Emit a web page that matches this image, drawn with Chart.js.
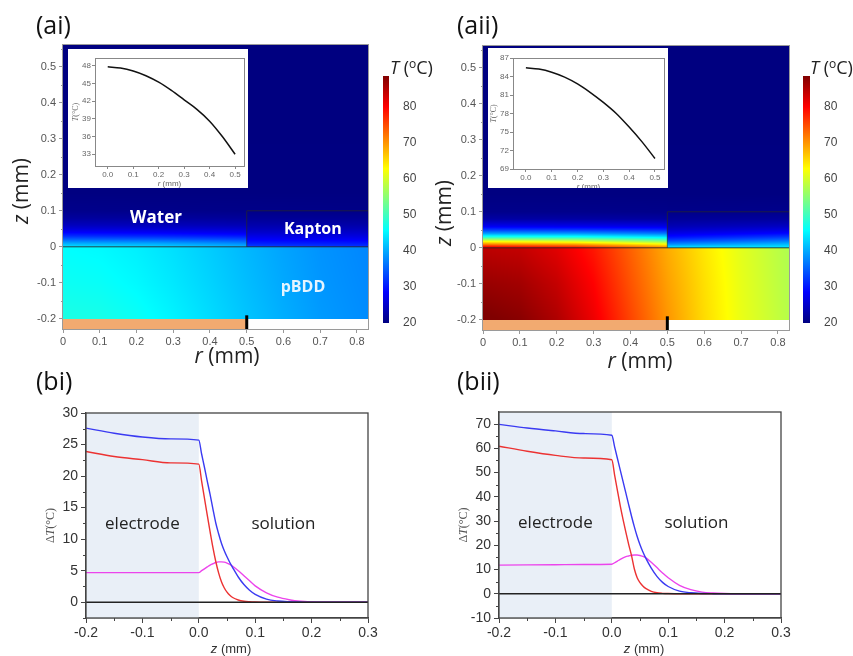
<!DOCTYPE html>
<html>
<head>
<meta charset="utf-8">
<script src="https://cdn.jsdelivr.net/npm/chart.js@4"></script>
<style>
body { margin: 0; background: #fff; }
#wrap { position: relative; width: 853px; height: 656px; overflow: hidden; }
canvas { position: absolute; }
.lab { position: absolute; font-family: "Open Sans"; font-size: 25px; line-height: 1; color: #111; }
</style>
</head>
<body>
<div id="wrap">
  <canvas id="heatA" width="375" height="375" style="left:0;top:0"></canvas>
  <canvas id="heatB" width="373" height="375" style="left:430px;top:0"></canvas>
  <canvas id="cbA" width="60" height="290" style="left:375px;top:55px"></canvas>
  <canvas id="cbB" width="58" height="290" style="left:795px;top:55px"></canvas>
  <canvas id="insA" width="180" height="139" style="left:68px;top:49px"></canvas>
  <canvas id="insB" width="180" height="140" style="left:488px;top:48px"></canvas>
  <canvas id="profA" width="430" height="261" style="left:0;top:395px"></canvas>
  <canvas id="profB" width="423" height="261" style="left:430px;top:395px"></canvas>
  <div class="lab" style="left:36px;top:12px">(ai)</div>
  <div class="lab" style="left:457px;top:12px">(aii)</div>
  <div class="lab" style="left:36px;top:368px">(bi)</div>
  <div class="lab" style="left:457px;top:368px">(bii)</div>
</div>
<script>
// colour scale
const cbMin = 20, cbMax = 88.6;
const cbTicks = [20, 30, 40, 50, 60, 70, 80];

// heat map axes
const rTicks = [0, 0.1, 0.2, 0.3, 0.4, 0.5, 0.6, 0.7, 0.8];
const zTicks = [-0.2, -0.1, 0, 0.1, 0.2, 0.3, 0.4, 0.5];
const zMinor = [-0.15, -0.05, 0.05, 0.15, 0.25, 0.35, 0.45, 0.55];

// electrode (pBDD) temperatures, rows = elecZ, columns = elecR
const elecR = [0, 0.1, 0.2, 0.3, 0.4, 0.5, 0.6, 0.7, 0.83];
const elecZ = [-0.2, -0.1, 0];
const aiElec = [
  [47.6, 47.3, 46.4, 45.0, 43.4, 41.8, 40.3, 39.0, 38.0],
  [46.5, 46.2, 45.4, 44.2, 42.8, 41.3, 39.9, 38.7, 37.8],
  [45.7, 45.4, 44.7, 43.6, 42.3, 40.9, 39.6, 38.5, 37.6]
];
const aiiElec = [
  [89.0, 88.0, 85.5, 81.2, 75.5, 70.0, 65.3, 61.5, 58.0],
  [87.0, 86.3, 84.0, 80.0, 74.5, 69.3, 65.0, 61.3, 57.7],
  [84.5, 84.0, 82.0, 78.5, 73.5, 68.5, 64.5, 61.0, 57.5]
];

// water / Kapton temperatures, rows = fluidZ, columns = fluidR
const fluidR = [0, 0.25, 0.499, 0.501, 0.83];
const fluidZ = [0, 0.01, 0.02, 0.03, 0.04, 0.05, 0.06, 0.08, 0.1, 0.15, 0.56];
const aiFluid = [
  [44, 43, 41, 33, 32],
  [40, 39.5, 37.5, 30.5, 30],
  [35.5, 35, 33.5, 28.5, 28],
  [31.5, 31, 30, 26.8, 26.3],
  [28.5, 28, 27.3, 25.2, 25],
  [26, 25.7, 25.2, 24, 23.8],
  [24.2, 24, 23.6, 23, 22.8],
  [22, 21.9, 21.7, 21.5, 21.4],
  [20.8, 20.7, 20.6, 20.6, 20.5],
  [20.1, 20.1, 20.1, 20.1, 20.1],
  [20, 20, 20, 20, 20]
];
const aiiFluid = [
  [83, 80, 72, 45, 45],
  [71, 69, 63, 38, 41],
  [60, 58, 53, 33, 36.5],
  [48, 47, 44, 29.5, 32.5],
  [39, 38.5, 36.5, 27, 29],
  [32.5, 32, 31, 25, 26.5],
  [27.5, 27.2, 26.8, 23.5, 24.5],
  [22.5, 22.4, 22.2, 21.6, 22],
  [20.8, 20.8, 20.7, 20.6, 20.8],
  [20.1, 20.1, 20.1, 20.1, 20.1],
  [20, 20, 20, 20, 20]
];

// insets: surface temperature vs r
const insetR = [0, 0.05, 0.1, 0.15, 0.2, 0.25, 0.3, 0.35, 0.4, 0.45, 0.5];
const aiInsetT = [47.8, 47.6, 47.1, 46.3, 45.2, 43.8, 42.2, 40.6, 38.6, 36.0, 33.0];
const aiiInsetT = [85.4, 85.2, 84.7, 83.9, 82.8, 81.4, 79.8, 78.0, 75.8, 73.4, 70.7];
const insetRTicks = [0, 0.1, 0.2, 0.3, 0.4, 0.5];
const aiInsetTicks = [33, 36, 39, 42, 45, 48];
const aiiInsetTicks = [69, 72, 75, 78, 81, 84, 87];

// profiles: delta T vs z
const zProfile = [-0.2, -0.15, -0.1, -0.05, 0, 0.005, 0.01, 0.015, 0.02, 0.025, 0.03, 0.035, 0.04, 0.045,
  0.05, 0.055, 0.06, 0.07, 0.08, 0.09, 0.1, 0.12, 0.14, 0.16, 0.18, 0.2, 0.22, 0.25, 0.3];
const biBlue = [27.6, 26.8, 26.2, 25.9, 25.7, 23.5, 21.4, 19.2, 17.1, 14.8, 12.6, 10.9, 9.4, 8.2,
  7.2, 6.3, 5.5, 4.0, 2.8, 1.9, 1.25, 0.5, 0.2, 0.08, 0.03, 0, 0, 0, 0];
const biRed = [23.9, 23.1, 22.6, 22.1, 21.9, 19.2, 16.5, 13.8, 11.2, 8.7, 6.5, 4.7, 3.3, 2.3,
  1.6, 1.1, 0.75, 0.35, 0.15, 0.07, 0.03, 0, 0, 0, 0, 0, 0, 0, 0];
const biMagenta = [4.7, 4.7, 4.7, 4.7, 4.7, 5.0, 5.3, 5.6, 5.9, 6.1, 6.3, 6.4, 6.4, 6.35,
  6.2, 6.0, 5.7, 5.0, 4.2, 3.4, 2.6, 1.5, 0.8, 0.4, 0.15, 0.05, 0.01, 0, 0];
const biiBlue = [69.9, 68.4, 67.2, 66.1, 65.4, 60.6, 55.8, 51.0, 46.3, 41.5, 36.7, 32.0, 27.6, 23.6,
  20.2, 17.3, 14.8, 10.6, 7.2, 4.7, 3.0, 1.1, 0.4, 0.12, 0.03, 0, 0, 0, 0];
const biiRed = [60.9, 58.8, 57.1, 56.0, 55.3, 49.0, 42.6, 36.3, 30.6, 25.3, 20.3, 15.7, 10.2, 6.6,
  4.6, 3.2, 2.2, 1.0, 0.4, 0.18, 0.08, 0, 0, 0, 0, 0, 0, 0, 0];
const biiMagenta = [11.8, 11.9, 12.0, 12.1, 12.2, 12.8, 13.5, 14.2, 14.8, 15.3, 15.6, 15.9, 16.0, 16.0,
  15.8, 15.4, 14.9, 13.0, 10.8, 8.6, 6.6, 3.5, 1.7, 0.7, 0.3, 0.1, 0, 0, 0];
const zeroLineZ = [-0.2, 0.3];
const profXTicks = [-0.2, -0.1, 0, 0.1, 0.2, 0.3];
const profXMinor = [-0.15, -0.05, 0.05, 0.15, 0.25];
const biYTicks = [0, 5, 10, 15, 20, 25, 30];
const biYMinor = [-2.5, 2.5, 7.5, 12.5, 17.5, 22.5, 27.5];
const biiYTicks = [-10, 0, 10, 20, 30, 40, 50, 60, 70];
const biiYMinor = [-5, 5, 15, 25, 35, 45, 55, 65];

Chart.defaults.animation = false;
Chart.defaults.responsive = false;
Chart.defaults.devicePixelRatio = 1;
Chart.defaults.plugins.legend.display = false;
Chart.defaults.plugins.tooltip.enabled = false;

function jet(v) {
  const t = Math.max(0, Math.min(1, (v - cbMin) / (cbMax - cbMin)));
  const f = c => Math.round(255 * Math.max(0, Math.min(1, 1.5 - Math.abs(4 * t - c))));
  return [f(3), f(2), f(1)];
}

function seg(arr, v) {
  if (v <= arr[0]) return [0, 0];
  for (let i = 0; i < arr.length - 1; i++) {
    if (v <= arr[i + 1]) return [i, (v - arr[i]) / (arr[i + 1] - arr[i])];
  }
  return [arr.length - 2, 1];
}

function sample(rs, zs, grid, r, z) {
  const [i, fi] = seg(rs, r);
  const [j, fj] = seg(zs, z);
  const lo = grid[j][i] * (1 - fi) + grid[j][i + 1] * fi;
  const hi = grid[j + 1][i] * (1 - fi) + grid[j + 1][i + 1] * fi;
  return lo * (1 - fj) + hi * fj;
}

function mixedText(ctx, parts, cx, cy, angle, align) {
  ctx.save();
  ctx.translate(cx, cy);
  ctx.rotate(angle || 0);
  let w = 0;
  parts.forEach(p => { ctx.font = p[1]; w += ctx.measureText(p[0]).width; });
  let xx = align === 'left' ? 0 : -w / 2;
  ctx.textBaseline = 'middle';
  ctx.textAlign = 'left';
  parts.forEach(p => {
    ctx.font = p[1];
    ctx.fillText(p[0], xx, p[2] || 0);
    xx += ctx.measureText(p[0]).width;
  });
  ctx.restore();
}

const fixTicks = list => scale => { scale.ticks = list.map(v => ({ value: v })); };
const fmt1 = v => (Math.round(v * 10) / 10).toString();

const minorTicks = {
  id: 'minor',
  afterDraw(chart, args, o) {
    if (!o.x && !o.y) return;
    const { ctx, chartArea: ca, scales } = chart;
    ctx.save();
    ctx.strokeStyle = o.color || '#444';
    ctx.lineWidth = 1;
    ctx.beginPath();
    (o.x || []).forEach(v => {
      const p = Math.round(scales.x.getPixelForValue(v)) + 0.5;
      ctx.moveTo(p, ca.bottom); ctx.lineTo(p, ca.bottom + o.len);
    });
    (o.y || []).forEach(v => {
      const p = Math.round(scales.y.getPixelForValue(v)) + 0.5;
      ctx.moveTo(ca.left, p); ctx.lineTo(ca.left - o.len, p);
    });
    ctx.stroke();
    ctx.restore();
  }
};

const heat = {
  id: 'heat',
  beforeDatasetsDraw(chart, args, o) {
    const { ctx, chartArea: ca, scales: { x, y } } = chart;
    const x0 = Math.round(ca.left), x1 = Math.round(ca.right);
    const y0 = Math.round(ca.top), y1 = Math.round(y.getPixelForValue(-0.2));
    const img = ctx.createImageData(x1 - x0, y1 - y0);
    let k = 0;
    for (let py = y0; py < y1; py++) {
      const z = y.getValueForPixel(py + 0.5);
      for (let px = x0; px < x1; px++) {
        const r = x.getValueForPixel(px + 0.5);
        const v = z < 0 ? sample(elecR, elecZ, o.elec, r, z) : sample(fluidR, fluidZ, o.fluid, r, z);
        const c = jet(v);
        img.data[k++] = c[0]; img.data[k++] = c[1]; img.data[k++] = c[2]; img.data[k++] = 255;
      }
    }
    ctx.putImageData(img, x0, y0);
    // substrate strip below the electrode
    const sl = x.getPixelForValue(0), sr = x.getPixelForValue(0.5);
    ctx.fillStyle = '#f2aa70';
    ctx.fillRect(sl, y1, sr - sl, ca.bottom - y1);
  },
  afterDraw(chart, args, o) {
    const { ctx, chartArea: ca, scales: { x, y } } = chart;
    ctx.save();
    ctx.strokeStyle = '#9a9a9a';
    ctx.lineWidth = 1;
    ctx.strokeRect(Math.round(ca.left) - 0.5, Math.round(ca.top) - 0.5, Math.round(ca.width) + 1, Math.round(ca.height) + 1);
    (o.labels || []).forEach(l => {
      ctx.fillStyle = l.color;
      ctx.font = 'bold ' + l.size + 'px "Open Sans"';
      ctx.textAlign = 'center';
      ctx.textBaseline = 'middle';
      ctx.fillText(l.t, x.getPixelForValue(l.r), y.getPixelForValue(l.z));
    });
    ctx.fillStyle = '#222';
    const f = '21px "Open Sans"', fi = 'italic 21px "Open Sans"';
    mixedText(ctx, [['z', fi], [' (mm)', f]], o.zTitle[0], o.zTitle[1], -Math.PI / 2);
    mixedText(ctx, [['r', fi], [' (mm)', f]], o.rTitle[0], o.rTitle[1], 0);
    ctx.restore();
  }
};

function heatChart(id, elec, fluid, pad, xH, labels, zTitle, rTitle) {
  const line = (xs, ys, w, col) => ({
    data: xs.map((v, i) => ({ x: v, y: ys[i] })),
    borderColor: col, borderWidth: w, pointRadius: 0, tension: 0
  });
  new Chart(document.getElementById(id), {
    type: 'line',
    data: {
      datasets: [
        line([0, 0.83], [0, 0], 1, 'rgba(40,40,40,0.85)'),
        line([0.5, 0.5, 0.83], [0, 0.1, 0.1], 1, 'rgba(40,40,40,0.7)'),
        line([0.5, 0.5], [-0.228, -0.19], 3, '#000')
      ]
    },
    options: {
      layout: { padding: pad },
      scales: {
        x: {
          type: 'linear', min: 0, max: 0.83,
          afterBuildTicks: fixTicks(rTicks),
          afterFit: s => { s.height = xH; },
          ticks: { callback: fmt1, color: '#555', font: { family: 'Liberation Sans', size: 11 }, padding: 2, maxRotation: 0 },
          grid: { drawOnChartArea: false, tickLength: 4, color: '#999' },
          border: { color: '#999' }
        },
        y: {
          type: 'linear', min: -0.228, max: 0.56,
          afterBuildTicks: fixTicks(zTicks),
          afterFit: s => { s.width = 33; },
          ticks: { callback: fmt1, color: '#555', font: { family: 'Liberation Sans', size: 11 }, padding: 3 },
          grid: { drawOnChartArea: false, tickLength: 4, color: '#999' },
          border: { color: '#999' }
        }
      },
      plugins: {
        heat: { elec: elec, fluid: fluid, labels: labels, zTitle: zTitle, rTitle: rTitle },
        minor: { y: zMinor, len: 2, color: '#999' }
      }
    },
    plugins: [heat, minorTicks]
  });
}

const colorBar = {
  id: 'colorBar',
  beforeDatasetsDraw(chart) {
    const { ctx, chartArea: ca, scales: { y } } = chart;
    const yb = y.getPixelForValue(cbMin), yt = y.getPixelForValue(cbMax);
    const g = ctx.createLinearGradient(0, yb, 0, yt);
    for (let k = 0; k <= 32; k++) {
      const c = jet(cbMin + (cbMax - cbMin) * k / 32);
      g.addColorStop(k / 32, 'rgb(' + c.join(',') + ')');
    }
    ctx.fillStyle = g;
    ctx.fillRect(ca.left, yt, ca.width, yb - yt);
    ctx.fillStyle = '#222';
    const f = '18px "Open Sans"';
    mixedText(ctx, [['T', 'italic ' + f], [' (', f], ['o', '12px "Open Sans"', -4], ['C)', f]], ca.left + 7, 14, 0, 'left');
  }
};

function colorBarChart(id, axisW) {
  new Chart(document.getElementById(id), {
    type: 'line',
    data: { datasets: [] },
    options: {
      layout: { padding: { left: 8, right: 0, top: 21, bottom: 22 } },
      scales: {
        x: { type: 'linear', display: false, min: 0, max: 1 },
        y: {
          type: 'linear', position: 'right', min: cbMin, max: cbMax,
          afterBuildTicks: fixTicks(cbTicks),
          afterFit: s => { s.width = axisW; },
          ticks: { color: '#444', font: { family: 'Liberation Sans', size: 12 }, padding: 6 },
          grid: { display: false },
          border: { display: false }
        }
      }
    },
    plugins: [colorBar]
  });
}

const insetDeco = {
  id: 'insetDeco',
  beforeDraw(chart) {
    const { ctx, width, height } = chart;
    ctx.save();
    ctx.fillStyle = '#fff';
    ctx.fillRect(0, 0, width, height);
    ctx.restore();
  },
  afterDraw(chart) {
    const { ctx, chartArea: ca } = chart;
    ctx.save();
    ctx.strokeStyle = '#888';
    ctx.lineWidth = 1;
    ctx.strokeRect(Math.round(ca.left) + 0.5, Math.round(ca.top) + 0.5, Math.round(ca.width), Math.round(ca.height));
    ctx.fillStyle = '#666';
    mixedText(ctx, [['T', 'italic 8px "Liberation Serif"'], ['(°C)', '8px "Liberation Serif"']], ca.left - 19, (ca.top + ca.bottom) / 2, -Math.PI / 2);
    mixedText(ctx, [['r', 'italic 8px "Liberation Sans"'], [' (mm)', '8px "Liberation Sans"']], (ca.left + ca.right) / 2, ca.bottom + 18, 0);
    ctx.restore();
  }
};

function insetChart(id, temps, yMin, yMax, yTicks, yW, pad, xH) {
  new Chart(document.getElementById(id), {
    type: 'line',
    data: {
      datasets: [{
        data: insetR.map((r, i) => ({ x: r, y: temps[i] })),
        borderColor: '#111', borderWidth: 1.5, pointRadius: 0, cubicInterpolationMode: 'monotone'
      }]
    },
    options: {
      layout: { padding: pad },
      scales: {
        x: {
          type: 'linear', min: -0.05, max: 0.535,
          afterBuildTicks: fixTicks(insetRTicks),
          afterFit: s => { s.height = xH; },
          ticks: { callback: v => v.toFixed(1), color: '#666', font: { family: 'Liberation Sans', size: 8 }, padding: 1, maxRotation: 0 },
          grid: { drawOnChartArea: false, tickLength: 3, color: '#888' },
          border: { color: '#888' }
        },
        y: {
          type: 'linear', min: yMin, max: yMax,
          afterBuildTicks: fixTicks(yTicks),
          afterFit: s => { s.width = yW; },
          ticks: { color: '#666', font: { family: 'Liberation Sans', size: 8 }, padding: 1 },
          grid: { drawOnChartArea: false, tickLength: 3, color: '#888' },
          border: { color: '#888' }
        }
      }
    },
    plugins: [insetDeco]
  });
}

const profDeco = {
  id: 'profDeco',
  beforeDatasetsDraw(chart) {
    const { ctx, chartArea: ca, scales: { x } } = chart;
    const a = x.getPixelForValue(-0.2), b = x.getPixelForValue(0);
    ctx.save();
    ctx.fillStyle = '#e9eff7';
    ctx.fillRect(a, ca.top, b - a, ca.height);
    ctx.restore();
  },
  afterDraw(chart, args, o) {
    const { ctx, chartArea: ca, scales: { x, y } } = chart;
    ctx.save();
    ctx.strokeStyle = '#444';
    ctx.lineWidth = 1.3;
    ctx.strokeRect(ca.left, ca.top, ca.width, ca.height);
    ctx.fillStyle = '#222';
    ctx.font = '17px "Open Sans"';
    ctx.textAlign = 'center';
    ctx.textBaseline = 'middle';
    ctx.fillText('electrode', x.getPixelForValue(-0.1), y.getPixelForValue(o.textY));
    ctx.fillText('solution', x.getPixelForValue(0.15), y.getPixelForValue(o.textY));
    ctx.fillStyle = '#555';
    mixedText(ctx, [['Δ', '12px "Liberation Serif"'], ['T', 'italic 12px "Liberation Serif"'], ['(°C)', '12px "Liberation Serif"']],
      ca.left - 35, (ca.top + ca.bottom) / 2 + 10, -Math.PI / 2);
    ctx.fillStyle = '#333';
    mixedText(ctx, [['z', 'italic 13px "Liberation Sans"'], [' (mm)', '13px "Liberation Sans"']], (ca.left + ca.right) / 2 + 4, ca.bottom + 31, 0);
    ctx.restore();
  }
};

function profileChart(id, blue, red, mag, yMin, yMax, yTicks, yMinor, pad, textY) {
  const ds = (ys, col) => ({
    data: zProfile.map((z, i) => ({ x: z, y: ys[i] })),
    borderColor: col, borderWidth: 1.4, pointRadius: 0, cubicInterpolationMode: 'monotone'
  });
  new Chart(document.getElementById(id), {
    type: 'line',
    data: {
      datasets: [
        { data: zeroLineZ.map(z => ({ x: z, y: 0 })), borderColor: '#222', borderWidth: 1.3, pointRadius: 0 },
        ds(blue, '#3a3af2'),
        ds(red, '#ec3232'),
        ds(mag, '#ec44ec')
      ]
    },
    options: {
      layout: { padding: pad },
      scales: {
        x: {
          type: 'linear', min: -0.2, max: 0.3,
          afterBuildTicks: fixTicks(profXTicks),
          afterFit: s => { s.height = 38; },
          ticks: { callback: v => v.toFixed(1), color: '#333', font: { family: 'Liberation Sans', size: 14 }, padding: 2, maxRotation: 0 },
          grid: { drawOnChartArea: false, tickLength: 5, color: '#444' },
          border: { color: '#444', width: 1.3 }
        },
        y: {
          type: 'linear', min: yMin, max: yMax,
          afterBuildTicks: fixTicks(yTicks),
          afterFit: s => { s.width = 40; },
          ticks: { color: '#333', font: { family: 'Liberation Sans', size: 14 }, padding: 3 },
          grid: { drawOnChartArea: false, tickLength: 5, color: '#444' },
          border: { color: '#444', width: 1.3 }
        }
      },
      plugins: {
        profDeco: { textY: textY },
        minor: { x: profXMinor, y: yMinor, len: 3, color: '#444' }
      }
    },
    plugins: [profDeco, minorTicks]
  });
}

heatChart('heatA', aiElec, aiFluid, { left: 30, right: 7, top: 45, bottom: 0 }, 46, [
  { t: 'Water', r: 0.253, z: 0.08, size: 17, color: '#ffffff' },
  { t: 'Kapton', r: 0.68, z: 0.047, size: 16, color: '#ffffff' },
  { t: 'pBDD', r: 0.653, z: -0.112, size: 16, color: '#e4f4ff' }
], [22, 191], [227, 357]);
heatChart('heatB', aiiElec, aiiFluid, { left: 20, right: 14, top: 46, bottom: 0 }, 45, [], [15, 213], [210, 362]);

colorBarChart('cbA', 46);
colorBarChart('cbB', 43);

insetChart('insA', aiInsetT, 31, 49.3, aiInsetTicks, 27, { left: 0, right: 4, top: 9, bottom: 0 }, 22);
insetChart('insB', aiiInsetT, 69, 87, aiiInsetTicks, 25, { left: 0, right: 4, top: 10, bottom: 0 }, 19);

profileChart('profA', biBlue, biRed, biMagenta, -2.5, 30, biYTicks, biYMinor, { left: 46, right: 62, top: 18, bottom: 0 }, 12.4);
profileChart('profB', biiBlue, biiRed, biiMagenta, -10, 75, biiYTicks, biiYMinor, { left: 29, right: 72, top: 17, bottom: 0 }, 29);
</script>
</body>
</html>
